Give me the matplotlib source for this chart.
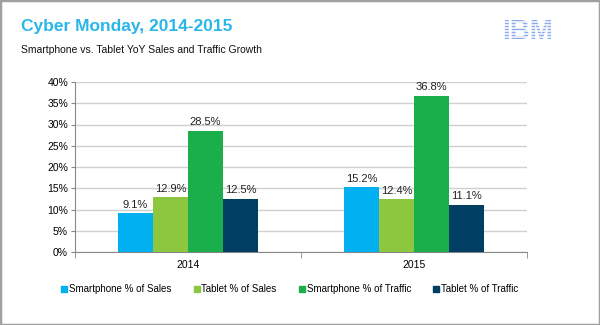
import matplotlib.pyplot as plt
import numpy as np
from matplotlib.patches import Rectangle
from matplotlib.lines import Line2D

plt.rcParams['font.family'] = ['Liberation Sans', 'DejaVu Sans']

years = ["2014", "2015"]
series = ["Smartphone % of Sales", "Tablet % of Sales",
          "Smartphone % of Traffic", "Tablet % of Traffic"]
values = [
    [9.1, 15.2],
    [12.9, 12.4],
    [28.5, 36.8],
    [12.5, 11.1],
]
colors = ["#00B0F0", "#8DC63F", "#1AAF4B", "#003F63"]

fig = plt.figure(figsize=(6, 3.25), dpi=100)
fig.patches.append(Rectangle((0, 0), 1, 1, transform=fig.transFigure,
                             fill=False, edgecolor="#A0A0A0", linewidth=2.5))

ax = fig.add_axes([75 / 600, 1 - 252 / 325, 452 / 600, 170 / 325])

x = np.arange(len(years))
w = 0.155
for i, (name, vals) in enumerate(zip(series, values)):
    pos = x + (i - 1.5) * w
    ax.bar(pos, vals, width=w, color=colors[i], label=name, zorder=3)
    for p, v in zip(pos, vals):
        ax.text(p, v + 0.8, f"{v}%", ha="center", va="bottom", fontsize=8, color="#222222")

ax.set_xlim(-0.5, 1.5)
ax.set_ylim(0, 40)
ax.set_yticks(range(0, 41, 5))
ax.set_yticklabels([f"{t}%" for t in range(0, 41, 5)], fontsize=7.5)
ax.set_xticks(x)
ax.set_xticklabels(years, fontsize=7.5)
ax.tick_params(axis="x", length=0, pad=6)
ax.tick_params(axis="y", length=3, color="#888888", pad=2)
ax.set_xticks([-0.5, 0.5, 1.5], minor=True)
ax.tick_params(axis="x", which="minor", length=4, color="#888888")
ax.grid(axis="y", color="#D0D0D0", linewidth=1, zorder=0)
for s in ["top", "right"]:
    ax.spines[s].set_visible(False)
ax.spines["left"].set_color("#888888")
ax.spines["bottom"].set_color("#888888")

handles = [Line2D([], [], marker="s", linestyle="", markersize=4, color=c) for c in colors]
fig.legend(handles, series, loc="center", bbox_to_anchor=(0.483, 1 - 289 / 325), ncol=4,
           frameon=False, fontsize=7, handletextpad=0.2, columnspacing=2.3,
           handlelength=0.6)

fig.text(21 / 600, 1 - 27 / 325, "Cyber Monday, 2014-2015", fontsize=12.5, fontweight="bold",
         color="#29B6E8", va="center")
fig.text(21 / 600, 1 - 50 / 325, "Smartphone vs. Tablet YoY Sales and Traffic Growth",
         fontsize=7.5, color="#111111", va="center")

# IBM striped logo
fig.text(528 / 600, 1 - 32 / 325, "IBM", fontsize=20, fontweight="bold",
         color="#8AABEE", ha="center", va="center", zorder=5)
for yy in np.arange(21.5, 45, 3):
    fig.lines.append(Line2D([498 / 600, 560 / 600], [1 - yy / 325] * 2,
                            transform=fig.transFigure, color="white", linewidth=1.1,
                            zorder=6))

fig.savefig("out.png", dpi=100)
